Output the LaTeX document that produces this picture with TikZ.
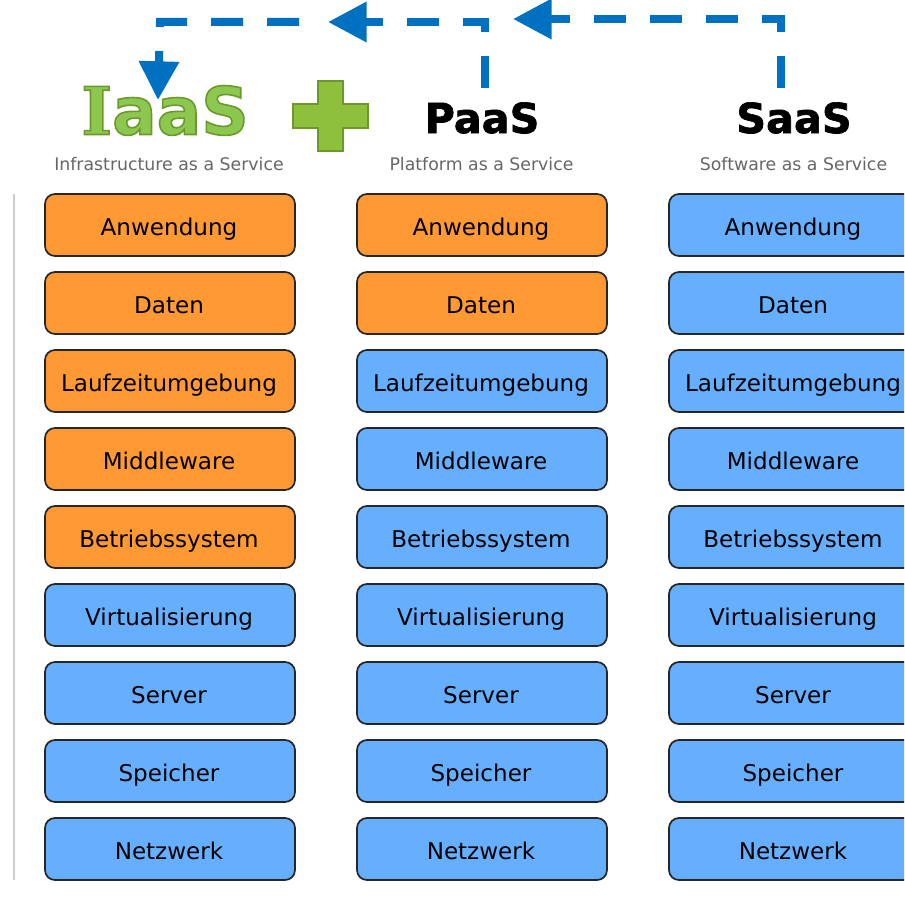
\documentclass[tikz,border=0pt]{standalone}
\usepackage{fontspec}
\setmainfont{DejaVu Sans}
\newfontfamily\slabfont{DejaVu Serif}
\usetikzlibrary{arrows.meta}
\definecolor{orangebox}{HTML}{FF9933}
\definecolor{bluebox}{HTML}{66AFFF}
\definecolor{flow}{HTML}{0070C0}
\definecolor{iaasfill}{HTML}{8CC850}
\definecolor{plusfill}{HTML}{8FC03C}
\definecolor{greenedge}{HTML}{6B9A2B}
\newcommand{\heavytext}[2]{\special{pdf:code 2 Tr #1 w #2 RG}}
\newcommand{\plaintext}{\special{pdf:code 0 Tr}}
\tikzset{
  x=0.75pt,y=-0.75pt,
  layerbox/.style={draw=black!85,line width=1.3pt,rounded corners=7.5pt,minimum width=187.5pt,minimum height=46.5pt,
    inner sep=0pt,outer sep=0pt,font=\fontsize{17.3pt}{20pt}\selectfont,text=black,text height=17pt,text depth=2pt},
  orangelayer/.style={layerbox,fill=orangebox},
  bluelayer/.style={layerbox,fill=bluebox},
  maintitle/.style={anchor=base,inner sep=0pt,font=\fontsize{31pt}{34pt}\selectfont\bfseries,text=black},
  subtitle/.style={anchor=base,inner sep=0pt,font=\fontsize{13pt}{15pt}\selectfont,text=black!60},
  flowline/.style={draw=flow,line width=6pt,dash pattern=on 24pt off 18pt,line join=miter},
  flowhead/.style={-{Triangle[length=29pt,width=29pt,fill=flow,sep=0pt]}},
}
\begin{document}
\begin{tikzpicture}
\useasboundingbox (0,0) rectangle (904,906);
\clip (0,0) rectangle (904,906);
% left rule
\coordinate (ruleA) at (14,194);
\coordinate (ruleB) at (14,880);
\draw[black!20,line width=1.5pt] (ruleA) -- (ruleB);
% layer boxes
\foreach \c/\cx/\norange in {a/170/5,b/482/2,c/794/0}{
  \foreach \t [count=\i] in {Anwendung,Daten,Laufzeitumgebung,Middleware,Betriebssystem,Virtualisierung,Server,Speicher,Netzwerk}{
    \pgfmathtruncatemacro{\yy}{225+78*(\i-1)}
    \ifnum\i>\norange
      \node[bluelayer] (\c\i) at (\cx,\yy) {\t\kern1.5pt};
    \else
      \node[orangelayer] (\c\i) at (\cx,\yy) {\t\kern1.5pt};
    \fi
  }
}
% titles
\node[anchor=base west,inner sep=0pt,text=iaasfill] (iaas) at (81,134.5)
  {\heavytext{1.2}{0.42 0.60 0.17}\fontsize{49.5pt}{52pt}\selectfont\bfseries{\slabfont I}aaS\plaintext};
\node[maintitle] (paas) at (482,133) {\heavytext{0.5}{0 0 0}PaaS\plaintext};
\node[maintitle] (saas) at (794,133) {\heavytext{0.5}{0 0 0}SaaS\plaintext};
\node[subtitle] (isub) at (169,170) {Infrastructure as a Service};
\node[subtitle] (psub) at (481.5,170) {Platform as a Service};
\node[subtitle] (ssub) at (793.5,170) {Software as a Service};
% plus
\draw[fill=plusfill,draw=greenedge,line width=1.5pt,miter limit=10]
  (318,81) -- (343,81) -- (343,104) -- (368,104) -- (368,128) -- (343,128) -- (343,151) -- (318,151) -- (318,128) -- (293,128) -- (293,104) -- (318,104) -- cycle;
% flows
\coordinate (saasup) at (781,88);
\coordinate (saascorner) at (781,19);
\coordinate (saastip) at (513,19);
\coordinate (paasup) at (484.5,88);
\coordinate (paascorner) at (484.5,22);
\coordinate (paastip) at (328,22);
\coordinate (iaasstart) at (299,22);
\coordinate (iaascorner) at (160,22);
\coordinate (iaastip) at (158,100);
\draw[flowline,flowhead] (saasup) -- (saascorner) -- (saastip);
\draw[flowline,flowhead] (paasup) -- (paascorner) -- (paastip);
\draw[flowline,flowhead] (iaasstart) -- (iaascorner) -- (iaastip);
\end{tikzpicture}
\end{document}
